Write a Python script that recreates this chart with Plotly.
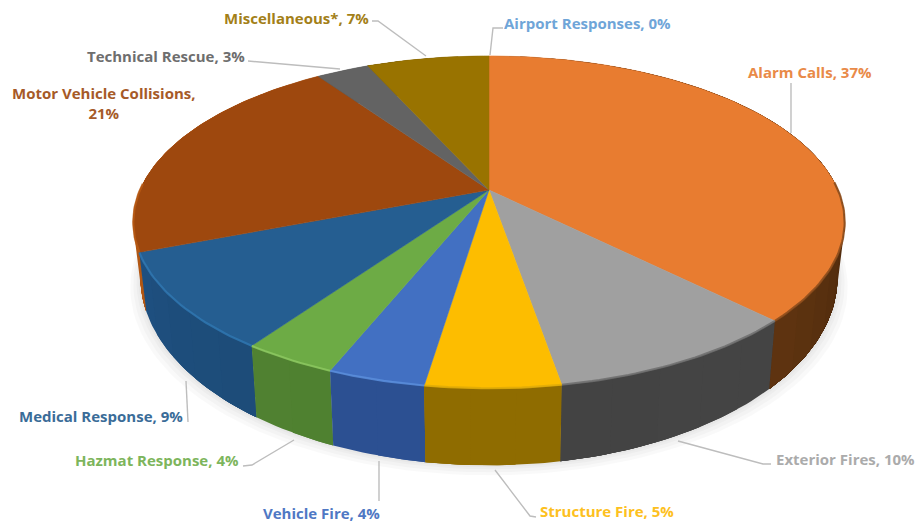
import numpy as np
import plotly.graph_objects as go

# ---- data (clockwise from 12 o'clock) ----
categories = ["Alarm Calls", "Exterior Fires", "Structure Fire", "Vehicle Fire", "Hazmat Response",
              "Medical Response", "Motor Vehicle Collisions", "Technical Rescue", "Miscellaneous*", "Airport Responses"]
shares = [37.49, 9.81, 5.1, 3.7, 3.6, 9.4, 21.3, 2.9, 6.7, 0.0]
shown_pct = ["37%", "10%", "5%", "4%", "4%", "9%", "21%", "3%", "7%", "0%"]

top_colors = ["#E87C30", "#A0A0A0", "#FDBD00", "#4270C2", "#6DAB45", "#255E91", "#9E480E", "#636363", "#997300", "#5B9BD5"]
side_near = ["#6A3A12", "#434343", "#8F6C00", "#2C5092", "#4F8030", "#1C4A75", "#A04D10", "#444444", "#6A5000", "#3A70A0"]
side_far = ["#4A280C", "#484848", "#9A7400", "#2A4C8C", "#528533", "#1F5284", "#B85A14", "#444444", "#6A5000", "#3A70A0"]
edge_colors = ["#8A4C1C", "#6E6E6E", "#E0AC08", "#5A8EDC", "#8CC860", "#2F76B0", "#B85A14", "#707070", "#A88000", "#5B9BD5"]
label_colors = ["#E98A48", "#ABABAB", "#FDC020", "#4F78C4", "#7DB55C", "#3A6C98", "#A65A28", "#6E6E6E", "#A37F18", "#6FA5D8"]

# label anchor: (x, y, xanchor)
label_pos = [(747, 72, "left"), (775, 459, "left"), (539, 511, "left"), (381, 513, "right"), (240, 460, "right"),
             (184, 416, "right"), (104, 103, "center"), (246, 56, "right"), (370, 18, "right"), (503, 23, "left")]
leaders = [
    [(791, 83), (791, 133)],
    [(771, 464), (763, 464), (678, 441)],
    [(536, 517), (530, 516), (495, 470)],
    [(379, 501), (379, 461)],
    [(243, 466), (252, 465), (294, 440)],
    [(188, 422), (186, 381)],
    [],
    [(248, 61), (340, 69)],
    [(372, 21), (378, 21), (426, 56)],
    [(503, 28), (493, 28), (490, 55)],
]

# ---- projection of the pie's top and bottom circles ----
CX, K = 489.0, 0.193
TOP = dict(a=349.0, b=160.0, cy=190.0)
BOT = dict(a=342.0, b=181.0, cy=241.0)


def project(theta, plane):
    u, v = np.sin(theta), np.cos(theta)
    d = 1 + K * v
    return CX + plane["a"] * u / d, plane["cy"] - plane["b"] * v / d


def mix(c1, c2, t):
    a = [int(c1[i:i + 2], 16) for i in (1, 3, 5)]
    b = [int(c2[i:i + 2], 16) for i in (1, 3, 5)]
    return "rgb(%d,%d,%d)" % tuple(round(x + (y - x) * t) for x, y in zip(a, b))


edges = np.concatenate([[0], np.cumsum(shares)]) / sum(shares) * 2 * np.pi
fig = go.Figure()


def poly(xs, ys, color, opacity=1.0, lw=0.0):
    fig.add_trace(go.Scatter(x=list(xs), y=list(ys), mode="lines", fill="toself", fillcolor=color, opacity=opacity,
                             line=dict(color=color, width=lw), hoverinfo="skip", showlegend=False))


# soft shadow under the pie
circle = np.linspace(0, 2 * np.pi, 180)
for grow, dy in [(10, 10), (7, 7), (4, 4), (2, 2)]:
    sx, sy = project(circle, BOT)
    sx = CX + (sx - CX) * (1 + grow / 342)
    poly(sx, sy + dy, "#000000", opacity=0.025)

# outer wall: each slice is drawn as one shape per shade, with each shade overlapping the next
order = sorted([i for i in range(len(shares)) if edges[i + 1] > edges[i]],
               key=lambda i: -np.cos((edges[i] + edges[i + 1]) / 2))
for i in order:
    t0, t1 = edges[i], edges[i + 1]
    n = max(1, int((t1 - t0) / np.radians(6)))
    ts = np.linspace(t0, t1, n + 1)
    seq = list(zip(ts[:-1], ts[1:]))
    if np.cos(t0) > np.cos(t1):
        seq_iter = [(a, t1) for a, _ in seq]
    else:
        seq_iter = [(t0, b) for _, b in reversed(seq)]
    for a, b in seq_iter:
        arc = np.linspace(a, b, max(4, int((b - a) / np.radians(1))))
        tx, ty = project(arc, TOP)
        bx, by = project(arc, BOT)
        near = a if np.cos(t0) > np.cos(t1) else b
        frontness = np.clip(-np.cos(near), 0, 1)
        poly(np.r_[tx, bx[::-1]], np.r_[ty, by[::-1]], mix(side_far[i], side_near[i], frontness))

# top faces
for i in range(len(shares)):
    t0, t1 = edges[i], edges[i + 1]
    if t1 <= t0:
        continue
    arc = np.linspace(t0, t1, max(4, int((t1 - t0) / np.radians(1))))
    x, y = project(arc, TOP)
    poly(np.r_[CX, x, CX], np.r_[TOP["cy"], y, TOP["cy"]], top_colors[i], lw=0.5)

# bevel highlight along the visible rim
for i in range(len(shares)):
    t0, t1 = edges[i], edges[i + 1]
    if t1 <= t0:
        continue
    arc = np.linspace(t0, t1, max(4, int((t1 - t0) / np.radians(1))))
    arc = arc[np.cos(arc) < 0.05]
    if arc.size < 2:
        continue
    x, y = project(arc, TOP)
    fig.add_trace(go.Scatter(x=x, y=y, mode="lines", line=dict(color=edge_colors[i], width=2.2), opacity=0.85,
                             hoverinfo="skip", showlegend=False))

# leader lines
for path in leaders:
    if path:
        fig.add_trace(go.Scatter(x=[p[0] for p in path], y=[p[1] for p in path], mode="lines",
                                 line=dict(color="#BDBDBD", width=1.4), hoverinfo="skip", showlegend=False))

# labels
for cat, pct, col, (lx, ly, anc) in zip(categories, shown_pct, label_colors, label_pos):
    text = f"{cat}, {pct}" if cat != "Motor Vehicle Collisions" else f"{cat},<br>{pct}"
    fig.add_annotation(x=lx, y=ly, text=text, showarrow=False, xanchor=anc, yanchor="middle", align="center",
                       font=dict(family="Open Sans", size=15, color=col, weight=700), borderpad=0)

fig.update_layout(width=916, height=522, margin=dict(l=0, r=0, t=0, b=0), paper_bgcolor="white", plot_bgcolor="white",
                  xaxis=dict(range=[0, 916], visible=False, fixedrange=True),
                  yaxis=dict(range=[522, 0], visible=False, fixedrange=True), showlegend=False)
fig.write_html("out.html", config={"displayModeBar": False},
               post_script="document.body.style.margin='0';document.documentElement.style.overflow='hidden';")
